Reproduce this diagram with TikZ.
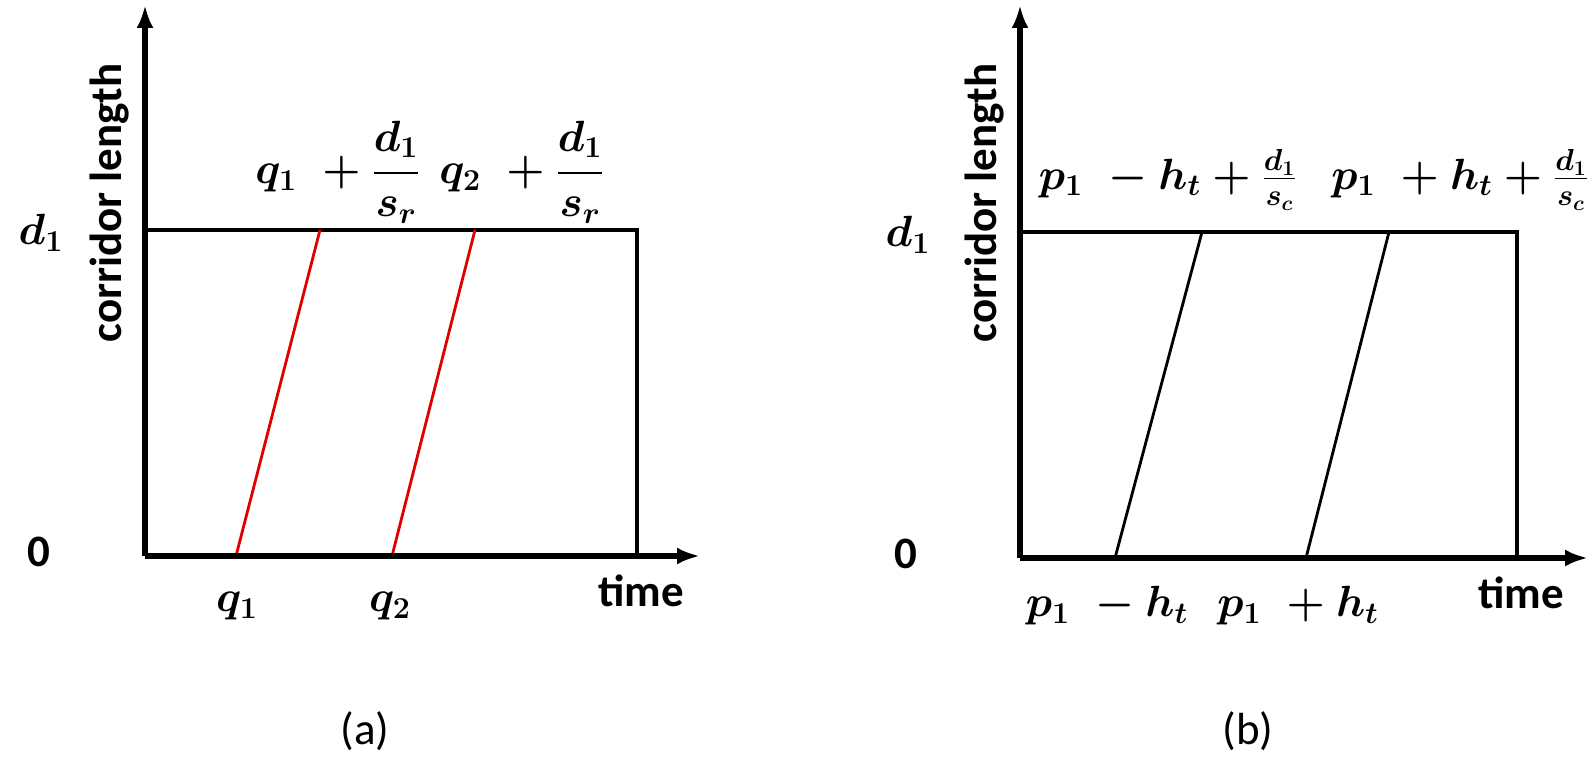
\documentclass[tikz,border=0pt]{standalone}
\usepackage{amsmath}
\usepackage{fontspec}
\setmainfont{Carlito}
\usetikzlibrary{arrows.meta}
\tikzset{
  axisline/.style={-{Latex[length=4.6mm,width=3.4mm]}, line width=2.9pt},
  boxline/.style={line width=2.4pt, line join=miter},
  trajred/.style={draw=red!88!black, line width=1.6pt},
  trajblack/.style={draw=black, line width=1.6pt},
  txtlabel/.style={font=\fontsize{25.6}{30}\selectfont\bfseries, inner sep=0pt},
  mathlabel/.style={font=\fontsize{26}{30}\selectfont\boldmath, inner sep=0pt}
}

\begin{document}
\begin{tikzpicture}[x=0.02cm, y=-0.02cm]
  \useasboundingbox (0,0) rectangle (1590,757);
  \fill[white] (0,0) rectangle (1590,757);

  % panel (a)
  \coordinate (Oa) at (145,556);
  \coordinate (Ya) at (145,5);
  \coordinate (Xa) at (700,556);
  \coordinate (TLa) at (145,230);
  \coordinate (TRa) at (637,230);
  \coordinate (BRa) at (637,556);
  \coordinate (qa1) at (236,556);
  \coordinate (qa2) at (320,230);
  \coordinate (qb1) at (392,556);
  \coordinate (qb2) at (475,230);
  \draw[boxline] (TLa) -- (TRa) -- (BRa);
  \draw[trajred] (qa1) -- (qa2);
  \draw[trajred] (qb1) -- (qb2);
  \draw[axisline] (Oa) -- (Ya);
  \draw[axisline] (Oa) -- (Xa);
  \node[txtlabel, rotate=90] (ylaba) at (110,203) {corridor length};
  \node[mathlabel] (d1a) at (41,233) {$d_1$};
  \node[txtlabel] (zeroa) at (39,552) {0};
  \node[txtlabel] (timea) at (641,591) {time};
  \node[mathlabel] (q1a) at (237,606) {$q_1$};
  \node[mathlabel] (q2a) at (390,606) {$q_2$};
  \node[mathlabel] (q1top) at (338,172) {$q_1\;+\dfrac{d_1}{s_r}$};
  \node[mathlabel] (q2top) at (522,172) {$q_2\;+\dfrac{d_1}{s_r}$};
  \node[txtlabel, font=\fontsize{25.6}{30}\selectfont] (capa) at (365,731) {(a)};

  % panel (b)
  \coordinate (Ob) at (1020,558);
  \coordinate (Yb) at (1020,5);
  \coordinate (Xb) at (1588,558);
  \coordinate (TLb) at (1020,232);
  \coordinate (TRb) at (1517,232);
  \coordinate (BRb) at (1517,558);
  \coordinate (pa1) at (1115,558);
  \coordinate (pa2) at (1202,232);
  \coordinate (pb1) at (1306,558);
  \coordinate (pb2) at (1389,232);
  \draw[boxline] (TLb) -- (TRb) -- (BRb);
  \draw[trajblack] (pa1) -- (pa2);
  \draw[trajblack] (pb1) -- (pb2);
  \draw[axisline] (Ob) -- (Yb);
  \draw[axisline] (Ob) -- (Xb);
  \node[txtlabel, rotate=90] (ylabb) at (985,203) {corridor length};
  \node[mathlabel] (d1b) at (908,235) {$d_1$};
  \node[txtlabel] (zerob) at (906,554) {0};
  \node[txtlabel] (timeb) at (1521,593) {time};
  \node[mathlabel] (p1m) at (1107,606) {$p_1\;-h_t$};
  \node[mathlabel] (p1p) at (1298,606) {$p_1\;+h_t$};
  \node[mathlabel] (p1mtop) at (1168,180) {$p_1\;-h_t+\tfrac{d_1}{s_c}$};
  \node[mathlabel] (p1ptop) at (1460,180) {$p_1\;+h_t+\tfrac{d_1}{s_c}$};
  \node[txtlabel, font=\fontsize{25.6}{30}\selectfont] (capb) at (1248,731) {(b)};
\end{tikzpicture}
\end{document}
